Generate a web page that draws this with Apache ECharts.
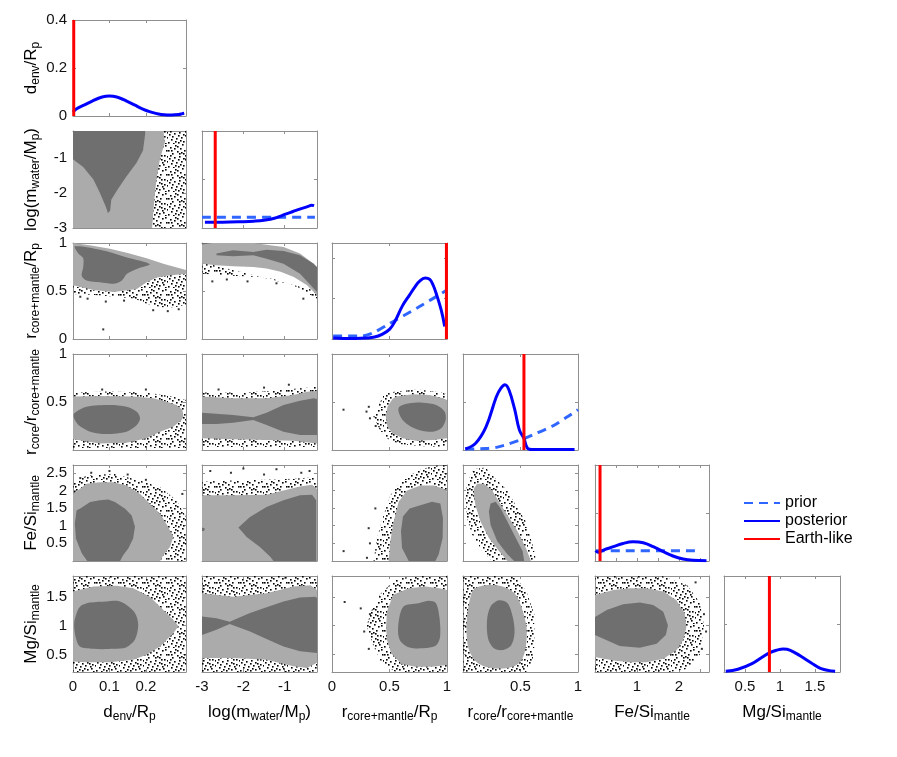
<!DOCTYPE html>
<html><head><meta charset="utf-8">
<script src="https://cdn.jsdelivr.net/npm/echarts@6/dist/echarts.min.js"></script>
<style>html,body{margin:0;padding:0;background:#fff}#c{width:897px;height:757px}</style>
</head><body><div id="c"></div>
<script>
// ---------- variables / axes ----------
const varNames = [
  '{m|d}{s|env}{m|/R}{s|p}',
  '{m|log(m}{s|water}{m|/M}{s|p}{m|)}',
  '{m|r}{s|core+mantle}{m|/R}{s|p}',
  '{m|r}{s|core}{m|/r}{s|core+mantle}',
  '{m|Fe/Si}{s|mantle}',
  '{m|Mg/Si}{s|mantle}'
];
const varMin = [0, -3, 0, 0, 0, 0.2];
const varMax = [0.31, -0.22, 1, 1, 2.72, 1.86];
const varTicks = [[0,0.1,0.2],[-3,-2,-1],[0,0.5,1],[0,0.5,1],[0.5,1,1.5,2,2.5],[0.5,1,1.5]];
const varXLabels = [[0,0.1,0.2],[-3,-2,-1],[0,0.5,1],[0.5,1],[1,2],[0.5,1,1.5]];
const varYLabels = [[0,0.2,0.4],[-3,-2,-1],[0,0.5,1],[0.5,1],[0.5,1,1.5,2,2.5],[0.5,1,1.5]];
const diag0Range = [0, 0.4];

// ---------- 1D marginals (diagonal) ----------
const post0 = [[0,0.017],[0.01,0.03],[0.03,0.045],[0.05,0.06],[0.07,0.074],[0.09,0.082],[0.1,0.083],[0.11,0.082],[0.13,0.074],[0.15,0.06],[0.17,0.045],[0.19,0.03],[0.21,0.018],[0.23,0.01],[0.25,0.005],[0.27,0.004],[0.29,0.006],[0.3,0.01],[0.305,0.012]];
const post1 = [[-2.93,0.06],[-2.5,0.06],[-2,0.065],[-1.75,0.07],[-1.5,0.08],[-1.25,0.1],[-1.0,0.14],[-0.8,0.17],[-0.6,0.2],[-0.45,0.22],[-0.35,0.235],[-0.29,0.23]];
const prior1 = [[-3,0.11],[-0.27,0.11]];
const post2 = [[0.01,0.01],[0.1,0.005],[0.2,0.005],[0.3,0.01],[0.37,0.02],[0.43,0.045],[0.5,0.1],[0.55,0.19],[0.61,0.34],[0.675,0.46],[0.72,0.54],[0.76,0.6],[0.81,0.635],[0.85,0.62],[0.88,0.56],[0.91,0.46],[0.95,0.3],[0.98,0.13]];
const prior2 = [[0.01,0.03],[0.25,0.03],[0.35,0.06],[0.5,0.16],[0.75,0.33],[1.0,0.51]];
const post3 = [[0.02,0.01],[0.11,0.07],[0.2,0.24],[0.29,0.555],[0.33,0.645],[0.365,0.68],[0.4,0.625],[0.45,0.42],[0.49,0.21],[0.53,0.12],[0.56,0.02],[0.6,0.005],[0.97,0.005]];
const prior3 = [[0.02,0.01],[0.2,0.015],[0.3,0.03],[0.4,0.065],[0.53,0.12],[0.65,0.18],[0.78,0.25],[0.9,0.34],[1.0,0.42]];
const post4 = [[0.02,0.11],[0.07,0.09],[0.2,0.114],[0.44,0.149],[0.67,0.183],[0.91,0.2],[1.15,0.19],[1.39,0.149],[1.63,0.097],[1.86,0.052],[2.1,0.021],[2.34,0.007],[2.66,0.003]];
const prior4 = [[0.02,0.107],[2.5,0.107]];
const post5 = [[0.225,0.007],[0.4,0.028],[0.6,0.087],[0.75,0.157],[0.85,0.2],[0.95,0.226],[1.05,0.24],[1.15,0.226],[1.3,0.164],[1.45,0.094],[1.59,0.035],[1.79,0.007]];
const earthLike = [0.002, -2.68, 0.995, 0.53, 0.12, 0.85];

// ---------- 2D panels: halo (scattered samples), 95% (light), 68% (dark) ----------
const halo_10 = [[0,-0.22],[0.31,-0.22],[0.31,-3],[0,-3]];
const light_10 = [[0,-0.22],[0.248,-0.22],[0.252,-0.55],[0.239,-1.0],[0.229,-1.6],[0.223,-2.2],[0.217,-3],[0,-3]];
const dark_10 = [[0,-0.22],[0.198,-0.22],[0.198,-0.3],[0.192,-0.78],[0.174,-1.14],[0.146,-1.53],[0.121,-1.92],[0.105,-2.19],[0.102,-2.5],[0.096,-2.58],[0.09,-2.39],[0.074,-2.0],[0.056,-1.61],[0.028,-1.25],[0,-1.03]];

const halo_20 = [[0,0.6],[0.31,0.7],[0.31,0.36],[0.28,0.33],[0.24,0.33],[0.2,0.37],[0.17,0.42],[0.12,0.44],[0.05,0.46],[0,0.47]];
const light_20 = [[0,1],[0.05,0.975],[0.101,0.94],[0.15,0.895],[0.202,0.84],[0.25,0.78],[0.31,0.72],[0.31,0.68],[0.257,0.66],[0.23,0.64],[0.202,0.59],[0.175,0.52],[0.111,0.49],[0.056,0.51],[0,0.56]];
const dark_20 = [[0.0055,0.965],[0.074,0.93],[0.148,0.85],[0.211,0.78],[0.175,0.73],[0.148,0.68],[0.134,0.61],[0.111,0.576],[0.074,0.59],[0.037,0.61],[0.024,0.66],[0.028,0.75],[0.028,0.84],[0.0146,0.89]];
const outl_20 = [[0.083,0.1],[0.04,0.42],[0.09,0.39],[0.22,0.3],[0.29,0.31],[0.02,0.44],[0.14,0.4],[0.26,0.29]];

const halo_21 = [[-3,0.8],[-3,0.68],[-2.25,0.66],[-1.44,0.64],[-1.03,0.6],[-0.63,0.52],[-0.3,0.44],[-0.22,0.42],[-0.22,0.5]];
const light_21 = [[-3,1],[-1.76,1],[-1.03,0.958],[-0.63,0.89],[-0.3,0.785],[-0.22,0.734],[-0.22,0.457],[-0.46,0.56],[-0.78,0.647],[-1.1,0.7],[-1.44,0.734],[-1.76,0.751],[-2.25,0.758],[-2.65,0.768],[-3,0.785]];
const dark_21 = [[-2.65,0.89],[-2.25,0.924],[-1.76,0.907],[-1.44,0.93],[-1.03,0.917],[-0.63,0.872],[-0.3,0.785],[-0.22,0.75],[-0.22,0.49],[-0.3,0.526],[-0.63,0.68],[-1.03,0.785],[-1.44,0.837],[-1.76,0.872],[-2.25,0.862],[-2.65,0.872]];
const dark2_21 = [[-3,1],[-2.75,1],[-3,0.985]];
const outl_21 = [[-2.75,0.6],[-2.4,0.62],[-1.9,0.6],[-0.55,0.42],[-1.2,0.58]];

const halo_30 = [[0,0.6],[0.1,0.61],[0.2,0.6],[0.27,0.56],[0.31,0.52],[0.31,0.02],[0,0.02]];
const light_30 = [[0,0.556],[0.074,0.563],[0.165,0.556],[0.22,0.538],[0.257,0.503],[0.284,0.469],[0.3,0.42],[0.303,0.35],[0.298,0.313],[0.275,0.243],[0.239,0.191],[0.202,0.122],[0.147,0.076],[0.074,0.069],[0,0.111]];
const dark_30 = [[0.003,0.38],[0.037,0.451],[0.101,0.469],[0.147,0.451],[0.175,0.399],[0.184,0.33],[0.175,0.26],[0.147,0.191],[0.092,0.167],[0.047,0.191],[0.015,0.26],[0.003,0.33]];
const outl_30 = [[0.08,0.63],[0.2,0.63]];

const halo_31 = [[-3,0.6],[-2,0.6],[-1.2,0.62],[-0.7,0.64],[-0.22,0.66],[-0.22,0.03],[-3,0.03]];
const light_31 = [[-3,0.556],[-2.25,0.538],[-1.44,0.538],[-0.79,0.573],[-0.46,0.608],[-0.22,0.615],[-0.22,0.069],[-0.79,0.097],[-1.44,0.104],[-2.25,0.111],[-3,0.122]];
const dark_31 = [[-3,0.389],[-2.25,0.365],[-1.76,0.34],[-1.44,0.389],[-1.03,0.469],[-0.63,0.514],[-0.3,0.538],[-0.22,0.531],[-0.22,0.156],[-0.63,0.156],[-1.03,0.191],[-1.44,0.26],[-1.76,0.313],[-2.25,0.285],[-2.65,0.271],[-3,0.271]];
const outl_31 = [[-2.6,0.63],[-1.5,0.65],[-0.9,0.68]];

const halo_32 = [[0.36,0.35],[0.4,0.45],[0.45,0.58],[0.55,0.61],[0.75,0.63],[0.95,0.6],[1,0.58],[1,0.03],[0.8,0.04],[0.6,0.06],[0.5,0.1],[0.42,0.2]];
const light_32 = [[0.468,0.347],[0.482,0.45],[0.526,0.53],[0.556,0.556],[0.702,0.58],[0.848,0.573],[0.965,0.538],[1,0.521],[1,0.122],[0.877,0.104],[0.731,0.097],[0.614,0.122],[0.526,0.174],[0.482,0.243]];
const dark_32 = [[0.579,0.399],[0.585,0.451],[0.673,0.486],[0.789,0.493],[0.906,0.469],[0.98,0.399],[0.988,0.313],[0.95,0.226],[0.877,0.191],[0.789,0.198],[0.687,0.243],[0.614,0.313]];
const outl_32 = [[0.1,0.42],[0.3,0.4],[0.33,0.33],[0.38,0.25],[0.32,0.45]];

const halo_40 = [[0,2.19],[0.037,2.42],[0.111,2.47],[0.184,2.28],[0.239,2.09],[0.284,1.72],[0.31,1.25],[0.31,0],[0.239,0],[0,0]];
const light_40 = [[0,1.9],[0.037,2.19],[0.074,2.23],[0.111,2.23],[0.147,2.14],[0.184,1.9],[0.211,1.62],[0.239,1.34],[0.261,0.97],[0.275,0.68],[0.266,0.4],[0.248,0.17],[0.239,0],[0,0]];
const dark_40 = [[0.019,1.48],[0.047,1.67],[0.074,1.72],[0.097,1.74],[0.115,1.67],[0.143,1.48],[0.161,1.29],[0.17,0.97],[0.165,0.64],[0.152,0.36],[0.138,0.17],[0.129,0],[0.039,0],[0.024,0.22],[0.008,0.64],[0.005,1.06],[0.01,1.44]];
const outl_40 = [[0.05,2.5],[0.15,2.45],[0.02,2.35],[0.1,2.55],[0.2,2.3],[0.3,1.9]];

const halo_41 = [[-3,2.25],[-2.25,2.28],[-1.44,2.3],[-0.79,2.33],[-0.22,2.38],[-0.22,0],[-3,0]];
const light_41 = [[-3,1.86],[-2.25,1.86],[-1.44,1.88],[-1.03,2.0],[-0.63,2.11],[-0.34,2.16],[-0.22,2.04],[-0.22,0],[-3,0]];
const dark_41 = [[-2.12,0.95],[-1.84,1.25],[-1.44,1.53],[-1.03,1.72],[-0.63,1.86],[-0.34,1.88],[-0.24,1.72],[-0.24,0],[-1.27,0],[-1.35,0.12],[-1.6,0.4],[-1.92,0.68]];
const dark2_41 = [[-3,0.95],[-2.93,0.92],[-2.95,0.85],[-3,0.85]];
const outl_41 = [[-2.8,2.55],[-2.3,2.5],[-1.5,2.45],[-1.2,2.6],[-0.6,2.5],[-0.4,2.55],[-2.0,2.62]];

const halo_42 = [[0.362,0],[0.391,0.65],[0.449,1.3],[0.507,1.86],[0.594,2.24],[0.739,2.56],[0.884,2.7],[1,2.72],[1,0]];
const light_42 = [[0.493,0],[0.507,0.56],[0.536,1.12],[0.58,1.68],[0.652,2.0],[0.768,2.14],[0.884,2.14],[0.971,2.05],[1,1.96],[1,0]];
const dark_42 = [[0.667,0],[0.609,0.37],[0.6,0.84],[0.617,1.26],[0.675,1.49],[0.768,1.58],[0.87,1.68],[0.942,1.63],[0.965,1.21],[0.962,0.65],[0.928,0.19],[0.899,0]];
const outl_42 = [[0.101,0.28],[0.304,0.09],[0.319,0.93],[0.377,1.49],[0.33,0.5]];

const halo_43 = [[0.035,2.24],[0.094,2.61],[0.196,2.65],[0.284,2.33],[0.386,2.0],[0.459,1.58],[0.547,1.12],[0.62,0.28],[0.635,0],[0.254,0],[0.167,0.28],[0.079,0.75],[0.035,1.21],[0.02,1.77]];
const light_43 = [[0.094,2.05],[0.123,2.19],[0.181,2.19],[0.254,2.0],[0.313,1.68],[0.386,1.3],[0.474,0.84],[0.547,0.37],[0.591,0],[0.386,0],[0.313,0.28],[0.225,0.65],[0.152,1.12],[0.108,1.58],[0.094,1.86]];
const dark_43 = [[0.24,1.63],[0.284,1.68],[0.327,1.49],[0.386,1.12],[0.459,0.65],[0.518,0.28],[0.532,0],[0.444,0],[0.386,0.19],[0.298,0.56],[0.24,1.02],[0.225,1.4]];

const halo_50 = [[0,0.2],[0.31,0.2],[0.31,1.86],[0,1.86]];
const light_50 = [[0,1.59],[0.056,1.68],[0.12,1.69],[0.165,1.65],[0.211,1.5],[0.248,1.27],[0.28,1.07],[0.289,0.99],[0.275,0.87],[0.239,0.64],[0.202,0.5],[0.165,0.41],[0.101,0.37],[0.037,0.37],[0,0.38]];
const dark_50 = [[0.003,1.02],[0.007,1.16],[0.019,1.33],[0.047,1.4],[0.092,1.42],[0.12,1.43],[0.147,1.36],[0.17,1.22],[0.179,1.02],[0.17,0.76],[0.147,0.63],[0.111,0.6],[0.056,0.6],[0.019,0.64],[0.007,0.81]];

const halo_51 = [[-3,0.2],[-0.22,0.2],[-0.22,1.86],[-3,1.86]];
const light_51 = [[-3,1.56],[-2.25,1.5],[-1.44,1.56],[-0.79,1.68],[-0.38,1.7],[-0.22,1.62],[-0.22,0.36],[-0.46,0.27],[-0.79,0.3],[-1.44,0.41],[-2.25,0.44],[-3,0.44]];
const dark_51 = [[-3,1.16],[-2.65,1.13],[-2.33,1.07],[-1.84,1.22],[-1.44,1.32],[-1.03,1.42],[-0.63,1.49],[-0.26,1.5],[-0.22,1.48],[-0.22,0.53],[-0.63,0.56],[-1.03,0.64],[-1.44,0.77],[-1.84,0.9],[-2.33,1.03],[-2.65,0.93],[-3,0.84]];

const halo_52 = [[0.3,1.0],[0.35,1.3],[0.42,1.55],[0.55,1.8],[0.7,1.86],[1,1.86],[1,0.2],[0.55,0.2],[0.42,0.4],[0.35,0.7]];
const light_52 = [[0.47,0.98],[0.479,1.25],[0.53,1.53],[0.665,1.65],[0.814,1.68],[0.934,1.65],[1,1.62],[1,0.32],[0.874,0.29],[0.725,0.29],[0.605,0.34],[0.515,0.52],[0.479,0.75]];
const dark_52 = [[0.575,0.98],[0.62,1.33],[0.754,1.39],[0.844,1.43],[0.904,1.39],[0.934,1.15],[0.94,0.81],[0.904,0.66],[0.784,0.61],[0.665,0.63],[0.59,0.75]];
const outl_52 = [[0.11,1.41],[0.33,1.2],[0.32,0.6],[0.28,0.9],[0.25,1.3]];

const halo_53 = [[0,1.86],[0.45,1.86],[0.55,1.6],[0.62,1.2],[0.62,0.6],[0.6,0.35],[0.55,0.2],[0,0.2]];
const light_53 = [[0.03,0.98],[0.045,1.3],[0.09,1.62],[0.194,1.7],[0.343,1.68],[0.448,1.56],[0.507,1.33],[0.552,0.98],[0.546,0.63],[0.507,0.4],[0.433,0.29],[0.313,0.26],[0.194,0.29],[0.104,0.4],[0.045,0.63]];
const dark_53 = [[0.209,1.1],[0.239,1.33],[0.313,1.44],[0.388,1.39],[0.433,1.15],[0.448,0.87],[0.418,0.66],[0.343,0.58],[0.269,0.61],[0.218,0.78]];

const halo_54 = [[0,1.86],[1.6,1.86],[2.2,1.7],[2.5,1.4],[2.6,1.0],[2.5,0.5],[2.2,0.25],[1.8,0.2],[0,0.2]];
const light_54 = [[0,1.53],[0.44,1.62],[0.83,1.65],[1.23,1.65],[1.63,1.59],[1.94,1.44],[2.14,1.21],[2.18,0.98],[2.1,0.75],[1.94,0.57],[1.63,0.43],[1.23,0.37],[0.83,0.37],[0.44,0.4],[0,0.46]];
const dark_54 = [[0,1.15],[0.28,1.27],[0.67,1.37],[1.07,1.4],[1.39,1.36],[1.63,1.24],[1.74,1.01],[1.69,0.84],[1.47,0.69],[1.07,0.62],[0.59,0.65],[0.28,0.75],[0,0.84]];
const outl_54 = [[2.6,1.2],[2.65,0.9],[2.4,1.75],[2.55,0.6]];

// speckle texture dot positions (style only)
const dotTile = [[2,3],[7,1],[12,4],[18,2],[22,6],[4,9],[9,7],[15,9],[20,11],[1,14],[6,13],[11,12],[17,15],[23,17],[3,19],[8,18],[13,17],[19,20],[5,23],[10,22],[15,21],[21,23],[0,6],[14,0],[10,15],[16,6],[6,4],[20,16],[2,11],[12,20],[9,2],[21,1],[4,16],[17,11],[13,8],[23,12],[7,21],[18,18],[0,22],[11,9],[15,14],[3,6]];

// ---------- build ----------
const FF = '"Liberation Sans", Arial, Helvetica, sans-serif';
const BORDER = '#8f8f8f';
const LIGHT = '#ababab', DARK = '#6f6f6f';
const tile = document.createElement('canvas'); tile.width = 24; tile.height = 24;
const tctx = tile.getContext('2d'); tctx.fillStyle = '#000';
dotTile.forEach(p => tctx.fillRect(p[0], p[1], 1.6, 1.6));
const SPECKLE = {image: tile, repeat: 'repeat'};

const colL = [73,202,332,463,595,724], colR = [186,317,447,578,709,840];
const rowT = [20,131,243,354,465,576], rowB = [116,228,339,450,561,672];

const NAMESTYLE = {
  fontSize: 17, fontFamily: FF, color: '#000',
  rich: {
    m: {fontSize: 17, fontFamily: FF, color: '#000'},
    s: {fontSize: 12, fontFamily: FF, color: '#000', padding: [9,0,0,0]}
  }
};

function mkAxis(isX, gi, pos, min, max, ticks, labels, name) {
  const a = {
    type: 'value', gridIndex: gi, position: pos, min: min, max: max,
    axisLine: {show: true, onZero: false, lineStyle: {color: BORDER, width: 1}},
    axisTick: {show: true, inside: true, length: 3, customValues: ticks, lineStyle: {color: BORDER, width: 1}},
    axisLabel: {show: !!labels, customValues: labels || ticks, margin: isX ? 7 : 6, fontSize: 15, fontFamily: FF, color: '#111',
      formatter: v => String(+(+v).toFixed(2))},
    splitLine: {show: false}
  };
  if (name) {
    a.name = name; a.nameLocation = 'middle'; a.nameGap = isX ? 30 : 31; a.nameRotate = isX ? 0 : 90;
    a.nameTextStyle = NAMESTYLE;
  }
  return a;
}

// [points, fill, smooth]
const pairs = {
  '1_0': {layers: [[halo_10, SPECKLE], [light_10, LIGHT], [dark_10, DARK]], out: []},
  '2_0': {layers: [[halo_20, SPECKLE], [light_20, LIGHT], [dark_20, DARK, 0.3]], out: outl_20},
  '2_1': {layers: [[halo_21, SPECKLE], [light_21, LIGHT], [dark_21, DARK], [dark2_21, DARK]], out: outl_21},
  '3_0': {layers: [[halo_30, SPECKLE], [light_30, LIGHT], [dark_30, DARK, 0.3]], out: outl_30},
  '3_1': {layers: [[halo_31, SPECKLE], [light_31, LIGHT], [dark_31, DARK]], out: outl_31},
  '3_2': {layers: [[halo_32, SPECKLE], [light_32, LIGHT], [dark_32, DARK, 0.3]], out: outl_32},
  '4_0': {layers: [[halo_40, SPECKLE], [light_40, LIGHT], [dark_40, DARK]], out: outl_40},
  '4_1': {layers: [[halo_41, SPECKLE], [light_41, LIGHT], [dark_41, DARK], [dark2_41, DARK]], out: outl_41},
  '4_2': {layers: [[halo_42, SPECKLE], [light_42, LIGHT], [dark_42, DARK]], out: outl_42},
  '4_3': {layers: [[halo_43, SPECKLE], [light_43, LIGHT], [dark_43, DARK]], out: []},
  '5_0': {layers: [[halo_50, SPECKLE], [light_50, LIGHT], [dark_50, DARK, 0.3]], out: []},
  '5_1': {layers: [[halo_51, SPECKLE], [light_51, LIGHT], [dark_51, DARK]], out: []},
  '5_2': {layers: [[halo_52, SPECKLE], [light_52, LIGHT], [dark_52, DARK, 0.3]], out: outl_52},
  '5_3': {layers: [[halo_53, SPECKLE], [light_53, LIGHT, 0.3], [dark_53, DARK, 0.3]], out: []},
  '5_4': {layers: [[halo_54, SPECKLE], [light_54, LIGHT], [dark_54, DARK]], out: outl_54}
};
const posts = [post0, post1, post2, post3, post4, post5];
const priors = [null, prior1, prior2, prior3, prior4, null];

const grids = [], xAxes = [], yAxes = [], series = [];
let g = 0;
for (let i = 0; i < 6; i++) {
  for (let j = 0; j <= i; j++) {
    grids.push({left: colL[j], top: rowT[i], width: colR[j] - colL[j], height: rowB[i] - rowT[i], containLabel: false, outerBoundsMode: 'none'});
    const diag = i === j;
    xAxes.push(mkAxis(true, g, 'bottom', varMin[j], varMax[j], varTicks[j], i === 5 ? varXLabels[j] : null, i === 5 ? varNames[j] : null));
    xAxes.push(mkAxis(true, g, 'top', varMin[j], varMax[j], varTicks[j], null, null));
    let ymin, ymax, yt, yl, yn;
    if (diag) {
      if (i === 0) { ymin = diag0Range[0]; ymax = diag0Range[1]; yt = [0,0.2,0.4]; yl = varYLabels[0]; yn = varNames[0]; }
      else { ymin = 0; ymax = 1; yt = i === 2 ? [0.42,0.84] : [0.5]; yl = null; yn = null; }
    } else {
      ymin = varMin[i]; ymax = varMax[i]; yt = varTicks[i];
      yl = j === 0 ? varYLabels[i] : null; yn = j === 0 ? varNames[i] : null;
    }
    yAxes.push(mkAxis(false, g, 'left', ymin, ymax, yt, yl, yn));
    yAxes.push(mkAxis(false, g, 'right', ymin, ymax, yt, null, null));
    const xi = 2 * g, yi = 2 * g;
    if (diag) {
      if (priors[i]) series.push({type: 'line', name: 'prior', xAxisIndex: xi, yAxisIndex: yi, data: priors[i], symbol: 'none', showSymbol: false, smooth: 0.3,
        lineStyle: {color: '#2f66ff', width: 3, type: [9, 6]}, itemStyle: {color: '#2f66ff'}, z: 3, silent: true});
      series.push({type: 'line', name: 'posterior', xAxisIndex: xi, yAxisIndex: yi, data: posts[i], symbol: 'none', showSymbol: false, smooth: 0.4,
        lineStyle: {color: '#0000ff', width: 3}, itemStyle: {color: '#0000ff'}, z: 4, silent: true});
      series.push({type: 'line', name: 'Earth-like', xAxisIndex: xi, yAxisIndex: yi, data: [[earthLike[i], ymin], [earthLike[i], ymax]], symbol: 'none', showSymbol: false,
        lineStyle: {color: '#ff0000', width: 3}, itemStyle: {color: '#ff0000'}, clip: false, z: 5, silent: true});
    } else {
      const P = pairs[i + '_' + j];
      const layers = P.layers;
      series.push({type: 'custom', xAxisIndex: xi, yAxisIndex: yi, clip: true, silent: true, z: 2,
        data: layers.map(L => L[0][0]),
        renderItem: (params, api) => {
          const L = layers[params.dataIndex];
          return {type: 'polygon', shape: {points: L[0].map(p => api.coord(p)), smooth: L[2] || 0}, style: {fill: L[1]}};
        }});
      if (P.out.length) series.push({type: 'scatter', xAxisIndex: xi, yAxisIndex: yi, data: P.out, symbol: 'rect', symbolSize: 2,
        itemStyle: {color: '#000'}, silent: true, z: 3});
    }
    g++;
  }
}

const chart = echarts.init(document.getElementById('c'), null, {renderer: 'canvas'});
chart.setOption({
  animation: false,
  backgroundColor: '#fff',
  grid: grids, xAxis: xAxes, yAxis: yAxes, series: series,
  legend: {data: ['prior', 'posterior', 'Earth-like'], orient: 'vertical', left: 743, top: 495, padding: 0,
    itemWidth: 36, itemHeight: 12, itemGap: 2, selectedMode: false, itemStyle: {opacity: 0},
    textStyle: {fontSize: 16, fontFamily: FF, color: '#000', padding: [0,0,0,0]}}
});
</script></body></html>
